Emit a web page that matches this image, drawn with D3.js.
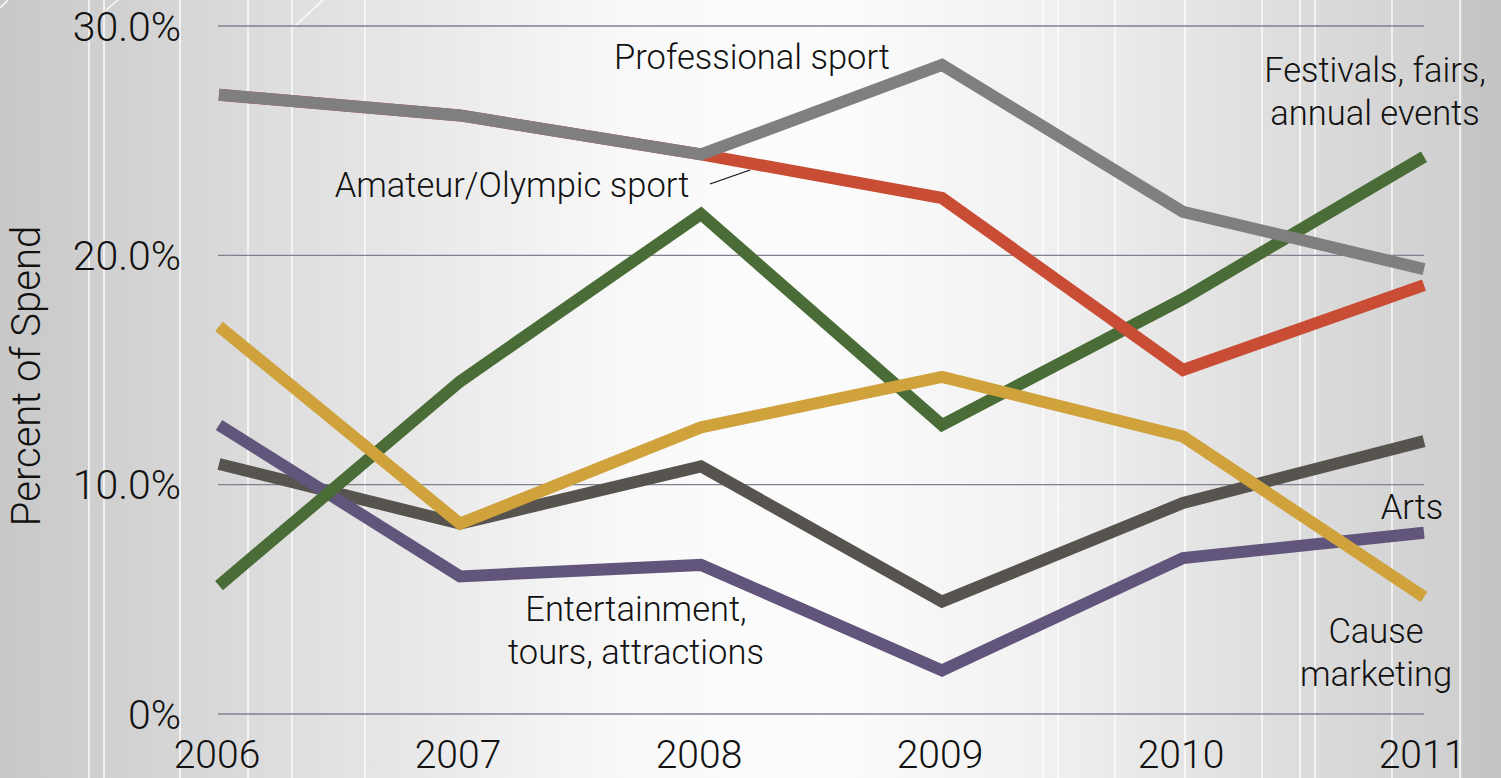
<!DOCTYPE html>
<html>
<head>
<meta charset="utf-8">
<script src="https://cdn.jsdelivr.net/npm/d3@7"></script>
<style>
  html, body { margin: 0; padding: 0; overflow: hidden; }
  svg { display: block; }
  text { font-family: "Roboto", "Liberation Sans", sans-serif; font-weight: 300; fill: #111; }
</style>
</head>
<body>
<svg id="chart" width="1501" height="778"></svg>
<script>
// Sponsorship spend share by property type, 2006-2011
const years = ["2006", "2007", "2008", "2009", "2010", "2011"];
const professionalSport = [27.0, 26.1, 24.4, 28.3, 21.9, 19.4];
const amateurOlympicSport = [27.0, 26.1, 24.4, 22.5, 15.0, 18.7];
const festivalsFairs = [5.6, 14.5, 21.8, 12.6, 18.1, 24.3];
const causeMarketing = [16.9, 8.3, 12.5, 14.7, 12.1, 5.1];
const arts = [10.9, 8.3, 10.8, 4.9, 9.2, 11.9];
const entertainment = [12.6, 6.0, 6.5, 1.9, 6.8, 7.9];
const yTicks = [0, 10, 20, 30];
const yTickLabels = ["0%", "10.0%", "20.0%", "30.0%"];

const W = 1501, H = 778;
const svg = d3.select("#chart");

// Backdrop: soft horizontal light falloff with faint vertical highlights
const defs = svg.append("defs");
const grad = defs.append("linearGradient").attr("id", "bg").attr("x1", "0").attr("x2", "1").attr("y1", "0").attr("y2", "0");
[[0, "#c8c8c8"], [0.12, "#d6d6d6"], [0.3, "#ebebeb"], [0.42, "#f9f9f9"], [0.55, "#fcfcfc"], [0.68, "#f2f2f2"],
 [0.8, "#e4e4e4"], [0.9, "#d8d8d8"], [0.974, "#cfcfcf"], [0.975, "#c6c6c6"], [1, "#c4c4c4"]]
  .forEach(([o, c]) => grad.append("stop").attr("offset", o).attr("stop-color", c));
svg.append("rect").attr("width", W).attr("height", H).attr("fill", "url(#bg)");

const streaks = [89, 104, 180, 248, 292, 365, 600, 640, 700, 760, 830, 890, 1043, 1058, 1115, 1185, 1262, 1300, 1315, 1392, 1460];
svg.append("g").selectAll("line").data(streaks).join("line")
  .attr("x1", d => d).attr("x2", d => d).attr("y1", 0).attr("y2", H)
  .attr("stroke", "#ffffff").attr("stroke-width", 1.6)
  .attr("stroke-opacity", d => (d > 500 && d < 1000) ? 0.2 : 0.85);
svg.append("path").attr("d", "M293,28 L323,0 M0,8 L8,0 M106,10 L118,0")
  .attr("stroke", "#ffffff").attr("stroke-width", 1.6).attr("fill", "none").attr("stroke-opacity", 0.85);

const x = d3.scalePoint().domain(years).range([219, 1424]);
const y = d3.scaleLinear().domain([0, 30]).range([714, 26]);

// Gridlines
svg.append("g").selectAll("line").data(yTicks).join("line")
  .attr("x1", 218).attr("x2", 1424)
  .attr("y1", d => y(d)).attr("y2", d => y(d))
  .attr("stroke", "#80808f").attr("stroke-width", 1.4);

// Y tick labels
svg.append("g").selectAll("text").data(yTicks).join("text")
  .attr("x", 181).attr("y", d => y(d))
  .attr("dy", "0.36em")
  .attr("text-anchor", "end")
  .style("font-size", "41px")
  .text((d, i) => yTickLabels[i]);

// X tick labels
svg.append("g").selectAll("text").data(years).join("text")
  .attr("x", d => x(d) - 2).attr("y", 768)
  .attr("text-anchor", "middle")
  .style("font-size", "39px")
  .text(d => d);

// Y axis title
svg.append("text")
  .attr("transform", "translate(40,376) rotate(-90)")
  .attr("text-anchor", "middle")
  .style("font-size", "40px")
  .text("Percent of Spend");

// Series lines, drawn bottom to top
const series = [
  { values: arts, color: "#57534f" },
  { values: entertainment, color: "#62557c" },
  { values: festivalsFairs, color: "#4a6c36" },
  { values: causeMarketing, color: "#cfa23c" },
  { values: amateurOlympicSport, color: "#c94c34" },
  { values: professionalSport, color: "#7f7f7f" }
];
const line = d3.line().x((d, i) => x(years[i])).y(d => y(d));
svg.append("g").selectAll("path").data(series).join("path")
  .attr("d", d => line(d.values))
  .attr("fill", "none")
  .attr("stroke", d => d.color)
  .attr("stroke-width", 12)
  .attr("stroke-linejoin", "miter")
  .attr("stroke-linecap", "butt");

// Series annotations
const labels = [
  { lines: ["Professional sport"], x: 752, y: 69 },
  { lines: ["Amateur/Olympic sport"], x: 512, y: 197 },
  { lines: ["Festivals, fairs,", "annual events"], x: 1375, y: 82 },
  { lines: ["Arts"], x: 1412, y: 519 },
  { lines: ["Cause", "marketing"], x: 1376, y: 643 },
  { lines: ["Entertainment,", "tours, attractions"], x: 636, y: 621 }
];
const lg = svg.append("g");
labels.forEach(l => {
  const t = lg.append("text").attr("text-anchor", "middle").style("font-size", "34.5px");
  l.lines.forEach((s, i) => t.append("tspan").attr("x", l.x).attr("y", l.y + i * 43).text(s));
});
// Leader from the amateur label to its line
svg.append("line").attr("x1", 710).attr("y1", 184).attr("x2", 750).attr("y2", 170)
  .attr("stroke", "#111").attr("stroke-width", 1.3);
</script>
</body>
</html>
